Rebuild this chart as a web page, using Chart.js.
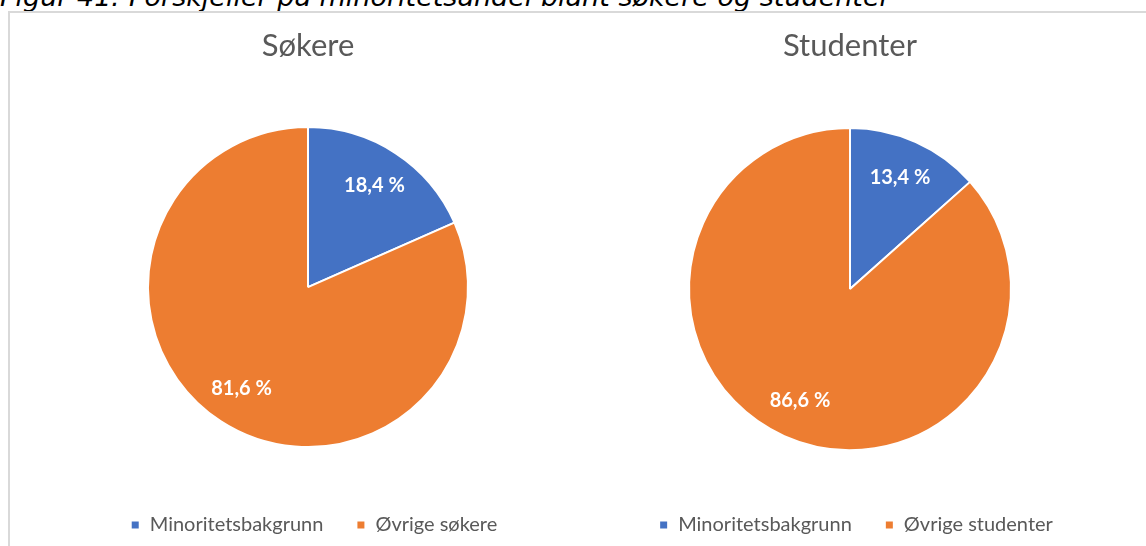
<!DOCTYPE html>
<html><head><meta charset="utf-8">
<script src="https://cdn.jsdelivr.net/npm/chart.js@4/dist/chart.umd.min.js"></script>
<style>
html,body{margin:0;padding:0;background:#fff;width:1146px;height:546px;overflow:hidden;position:relative}
#hdr{position:absolute;left:0;top:-19px;font:italic 27px "DejaVu Sans";color:#000;white-space:nowrap;line-height:normal}
#box{position:absolute;left:8px;top:11px;width:1200px;height:600px;border:2px solid #d9d9d9;box-sizing:border-box;background:#fff}
.c{position:absolute;top:14px;height:532px}
</style></head><body>
<div id="hdr">Figur 41: Forskjeller på minoritetsandel blant søkere og studenter</div>
<div id="box"></div>
<div class="c" style="left:20px;width:576px"><canvas id="c1"></canvas></div>
<div class="c" style="left:579px;width:542px"><canvas id="c2"></canvas></div>
<script>
const titles = ['Søkere', 'Studenter'];
const categoriesSokere = ['Minoritetsbakgrunn', 'Øvrige søkere'];
const categoriesStudenter = ['Minoritetsbakgrunn', 'Øvrige studenter'];
const valuesSokere = [18.4, 81.6];
const valuesStudenter = [13.4, 86.6];
const sliceColors = ['#4472C4', '#ED7D31'];

const labelPlugin = {
  id: 'sliceLabels',
  afterDatasetsDraw(chart) {
    const ctx = chart.ctx;
    const meta = chart.getDatasetMeta(0);
    const ds = chart.data.datasets[0];
    ctx.save();
    ctx.fillStyle = '#ffffff';
    ctx.font = 'bold 20px Lato';
    ctx.textAlign = 'center';
    ctx.textBaseline = 'middle';
    meta.data.forEach((arc, i) => {
      const p = arc.getProps(['x','y','startAngle','endAngle','outerRadius'], true);
      const mid = (p.startAngle + p.endAngle) / 2;
      const r = p.outerRadius * 0.76;
      const txt = ds.data[i].toFixed(1).replace('.', ',') + ' %';
      ctx.fillText(txt, p.x + Math.cos(mid) * r, p.y + Math.sin(mid) * r);
    });
    ctx.restore();
  }
};

const legendShift = {
  id: 'legendShift',
  afterLayout(chart) {
    if (chart.legend) { chart.legend.left += 6; chart.legend.right += 6; }
  }
};

function makePie(id, title, cats, vals, radius, titleGap) {
  return new Chart(document.getElementById(id), {
    type: 'pie',
    data: {
      labels: cats,
      datasets: [{ data: vals, backgroundColor: sliceColors, borderColor: '#ffffff', borderWidth: 2, radius: radius }]
    },
    options: {
      responsive: true,
      maintainAspectRatio: false,
      animation: false,
      layout: { padding: { top: 0, bottom: 1, left: 0, right: 0 } },
      plugins: {
        tooltip: { enabled: false },
        title: {
          display: true, text: title, color: '#595959',
          font: { family: 'Lato', size: 31, weight: 'normal' },
          padding: { top: 13, bottom: titleGap }
        },
        legend: {
          position: 'bottom',
          labels: {
            color: '#595959', boxWidth: 9, boxHeight: 9, padding: 33,
            font: { family: 'Lato', size: 20 }
          }
        }
      }
    },
    plugins: [labelPlugin, legendShift]
  });
}
makePie('c1', titles[0], categoriesSokere, valuesSokere, 160, 28);
makePie('c2', titles[1], categoriesStudenter, valuesStudenter, 161, 32);
</script>
</body></html>
